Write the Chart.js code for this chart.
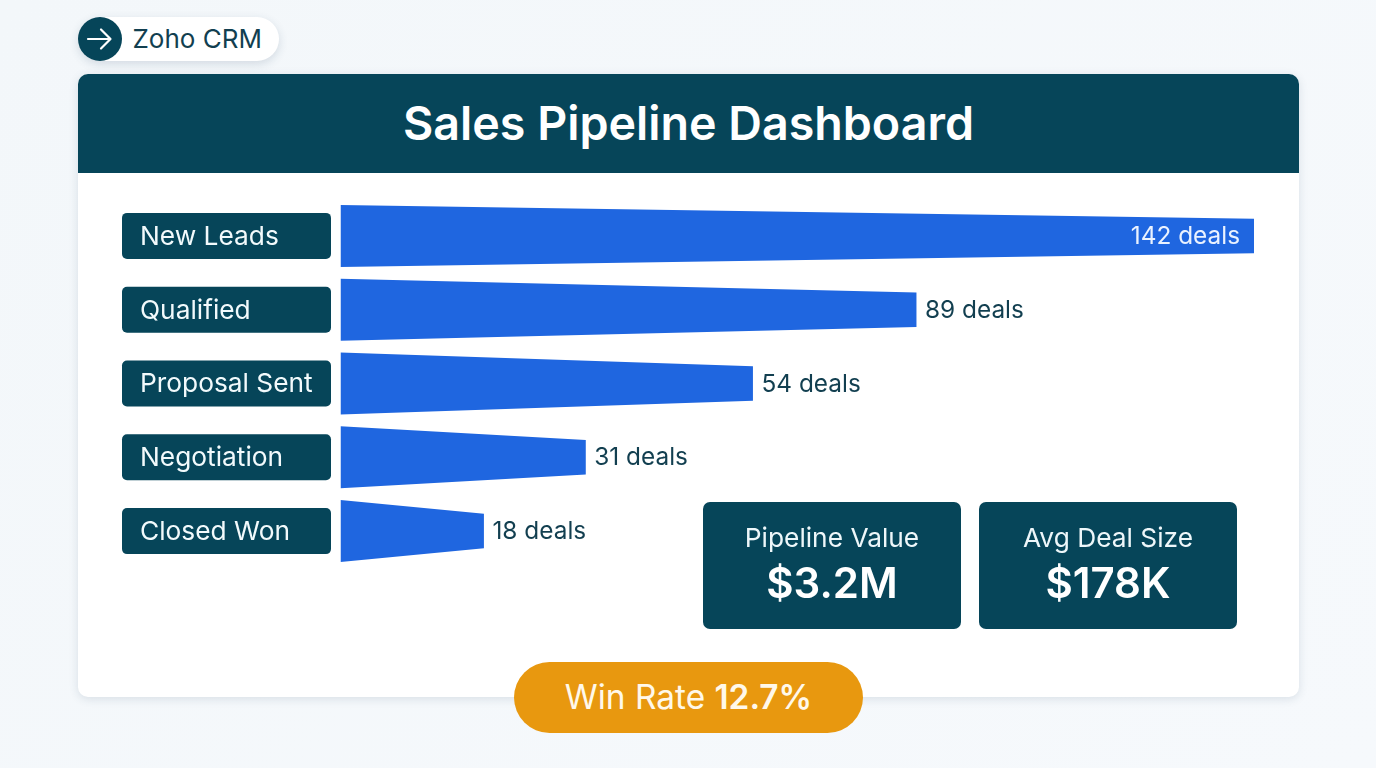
<!DOCTYPE html>
<html><head><meta charset="utf-8">
<script src="https://cdn.jsdelivr.net/npm/chart.js@4"></script>
<style>
html,body{margin:0;padding:0;width:1376px;height:768px;overflow:hidden;background:linear-gradient(135deg,#f3f7fa,#f6f9fc);font-family:Inter,sans-serif}
.abs{position:absolute;box-sizing:border-box}
#card{left:78px;top:74px;width:1221px;height:623px;background:#fff;border-radius:10px;box-shadow:0 2px 10px rgba(40,70,100,.14)}
#head{left:78px;top:74px;width:1221px;height:99px;background:#064559;border-radius:10px 10px 0 0;color:#fff;font-size:46.6px;font-weight:600;text-align:center;line-height:98px}
#tag{left:78px;top:17px;width:201px;height:44px;background:#fff;border-radius:22px;box-shadow:0 3px 10px rgba(40,70,100,.16);color:#123f50;font-size:26px;line-height:44px;padding-left:54.5px}
#dot{left:77.5px;top:17px;width:44px;height:44px;border-radius:50%;background:#064559}
.stat{top:502px;width:258px;height:127px;background:#064559;border-radius:7px;color:#fff;text-align:center}
.stat .l{position:absolute;left:0;right:0;top:20px;font-size:26.3px;line-height:32px;color:#eef7fa}
.stat .v{position:absolute;left:0;right:0;top:53px;font-size:42px;font-weight:600;line-height:56px}
#win{left:514px;top:662px;width:349px;height:71px;border-radius:36px;background:#e8980f;color:#fff8ea;text-align:center;font-size:33.4px;line-height:71px}
#win b{font-weight:600}
canvas{position:absolute;left:0;top:0}
</style></head>
<body>
<div class="abs" id="card"></div>
<div class="abs" id="head">Sales Pipeline Dashboard</div>
<div class="abs" id="tag">Zoho CRM</div>
<div class="abs" id="dot"><svg width="44" height="44" viewBox="0 0 44 44" fill="none" stroke="#fff" stroke-width="2.2" stroke-linecap="round" stroke-linejoin="round"><path d="M10 22H32M23 12.5L32.5 22L23 31.5"/></svg></div>
<div style="position:absolute;left:0;top:0;width:1376px;height:768px"><canvas id="c" width="1376" height="768"></canvas></div>
<div class="abs stat" style="left:703px"><div class="l">Pipeline Value</div><div class="v">$3.2M</div></div>
<div class="abs stat" style="left:979px"><div class="l">Avg Deal Size</div><div class="v">$178K</div></div>
<div class="abs" id="win">Win Rate <b>12.7%</b></div>
<script>
const stages = ["New Leads","Qualified","Proposal Sent","Negotiation","Closed Won"];
const dealCounts = [142,89,54,31,18];
const barLengthPercent = [100,63.05,45.15,26.85,15.7]; // drawn length as share of the widest bar
const maxPercent = 100;

const NAVY="#064559", BLUE="#1f66e0", INK="#123f50";
const TIP_RATIO = 34.5/62;

// Tapered funnel shape on the library's bar element
Chart.BarElement.prototype.draw = function(ctx){
  const {x,y,base,height} = this.getProps(['x','y','base','height']);
  const h0=height/2, h1=height/2*TIP_RATIO;
  ctx.save();
  ctx.fillStyle=this.options.backgroundColor;
  ctx.beginPath();
  ctx.moveTo(base,y-h0);ctx.lineTo(x,y-h1);ctx.lineTo(x,y+h1);ctx.lineTo(base,y+h0);
  ctx.closePath();ctx.fill();ctx.restore();
};

const labelBoxes={id:'labelBoxes',beforeDraw(chart){
  const {ctx,scales:{y}}=chart;
  ctx.save();ctx.fillStyle=NAVY;
  stages.forEach((s,i)=>{
    const py=y.getPixelForTick(i);
    ctx.beginPath();ctx.roundRect(122,py-23,209,46,5);ctx.fill();
  });
  ctx.restore();
}};
const dealLabels={id:'dealLabels',afterDatasetsDraw(chart){
  const {ctx}=chart, meta=chart.getDatasetMeta(0);
  ctx.save();ctx.font='400 24.4px Inter';ctx.textBaseline='middle';
  meta.data.forEach((el,i)=>{
    const t=dealCounts[i]+' deals';
    if(i===0){ctx.textAlign='right';ctx.fillStyle='#eaf2ff';ctx.fillText(t,el.x-14,el.y+1);}
    else{ctx.textAlign='left';ctx.fillStyle=INK;ctx.fillText(t,el.x+8.5,el.y+0.8);}
  });
  ctx.restore();
}};

new Chart(document.getElementById('c'),{
  type:'bar',
  data:{labels:stages,datasets:[{data:barLengthPercent,backgroundColor:BLUE,barThickness:62}]},
  options:{
    indexAxis:'y',responsive:false,animation:false,
    layout:{padding:{left:140,top:199,right:122,bottom:200}},
    plugins:{legend:{display:false},tooltip:{enabled:false}},
    scales:{
      x:{display:false,min:0,max:maxPercent},
      y:{grid:{display:false},border:{display:false},
         afterFit(s){s.width=200.5;},
         ticks:{crossAlign:'far',padding:0,labelOffset:1,color:'#f2fafc',font:{family:'Inter',size:26.3}}}
    }
  },
  plugins:[labelBoxes,dealLabels]
});
</script>
</body></html>
